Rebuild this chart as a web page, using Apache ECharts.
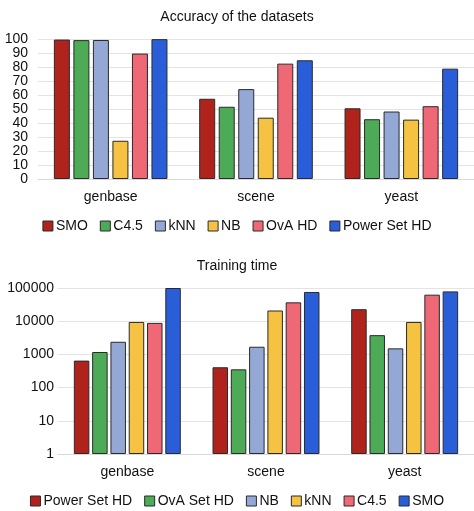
<!DOCTYPE html>
<html><head><meta charset="utf-8">
<script src="https://cdn.jsdelivr.net/npm/echarts@6/dist/echarts.min.js"></script>
<style>html,body{margin:0;padding:0;background:#fff}#c{width:474px;height:511px}</style>
</head><body><div id="c"></div>
<script>
const categories = ['genbase', 'scene', 'yeast'];
const colors = ['#B0231C', '#4DAA57', '#94A8D6', '#F5C242', '#EE6875', '#2A5ED8'];

const accNames = ['SMO', 'C4.5', 'kNN', 'NB', 'OvA HD', 'Power Set HD'];
const accSMO = [99.6, 57.3, 50.5];
const accC45 = [99.2, 51.6, 42.7];
const accKNN = [99.3, 64.2, 48.2];
const accNB = [27.3, 43.8, 42.4];
const accOvA = [89.6, 82.4, 52.0];
const accPS = [99.9, 84.8, 78.8];
const accSeries = [accSMO, accC45, accKNN, accNB, accOvA, accPS];
const accTicks = [0, 10, 20, 30, 40, 50, 60, 70, 80, 90, 100];

const timeNames = ['Power Set HD', 'OvA Set HD', 'NB', 'kNN', 'C4.5', 'SMO'];
const timePS = [650, 410, 23000];
const timeOvA = [1180, 355, 3800];
const timeNB = [2400, 1700, 1520];
const timeKNN = [9500, 21000, 9500];
const timeC45 = [8900, 37000, 63000];
const timeSMO = [100000, 76000, 79000];
const timeSeries = [timePS, timeOvA, timeNB, timeKNN, timeC45, timeSMO];
const timeTicks = [1, 10, 100, 1000, 10000, 100000];

const FONT = 'Liberation Sans';
const txt = { fontFamily: FONT, color: '#111', fontSize: 14 };

const series = [];
accSeries.forEach((d, i) => series.push({
  type: 'bar', name: accNames[i], xAxisIndex: 0, yAxisIndex: 0, data: d,
  barWidth: 16, barGap: '22%', barCategoryGap: '22%',
  itemStyle: { color: colors[i], borderColor: '#2a2a2a', borderWidth: 1 }
}));
timeSeries.forEach((d, i) => series.push({
  type: 'bar', name: timeNames[i], xAxisIndex: 1, yAxisIndex: 1, data: d,
  barWidth: 15.5, barGap: '18%', barCategoryGap: '22%',
  itemStyle: { color: colors[i], borderColor: '#2a2a2a', borderWidth: 1 }
}));

const legendCommon = {
  itemWidth: 10, itemHeight: 10, itemGap: 12, icon: 'rect',
  textStyle: { fontFamily: FONT, fontSize: 14, color: '#111', padding: [0, 0, 0, -2] }
};
const legendData = names => names.map((n, i) => ({
  name: n, itemStyle: { color: colors[i], borderColor: '#2a2a2a', borderWidth: 1 }
}));

const chart = echarts.init(document.getElementById('c'), null, { renderer: 'canvas' });
chart.setOption({
  animation: false,
  backgroundColor: '#fff',
  title: [
    { text: 'Accuracy of the datasets', left: 'center', top: 5, textStyle: { fontFamily: FONT, fontSize: 14, fontWeight: 'normal', color: '#111' } },
    { text: 'Training time', left: 'center', top: 254, textStyle: { fontFamily: FONT, fontSize: 14, fontWeight: 'normal', color: '#111' } }
  ],
  legend: [
    Object.assign({ data: legendData(accNames), top: 214, left: 'center' }, legendCommon),
    Object.assign({ data: legendData(timeNames), top: 489, left: 'center' }, legendCommon)
  ],
  grid: [
    { left: 38, right: 0, top: 39, height: 140 },
    { left: 58, right: -2, top: 288, height: 166 }
  ],
  xAxis: [0, 1].map(i => ({
    type: 'category', gridIndex: i, data: categories,
    axisLine: { show: true, lineStyle: { color: '#d9d9d9' } }, axisTick: { show: false },
    axisLabel: Object.assign({ margin: 11 }, txt)
  })),
  yAxis: [
    { type: 'value', gridIndex: 0, min: accTicks[0], max: accTicks[accTicks.length - 1], interval: 10,
      axisLine: { show: false }, axisTick: { show: false },
      splitLine: { lineStyle: { color: '#e3e3e3' } },
      axisLabel: Object.assign({ margin: 10 }, txt) },
    { type: 'log', gridIndex: 1, logBase: 10, min: timeTicks[0], max: timeTicks[timeTicks.length - 1], interval: 1,
      axisLine: { show: false }, axisTick: { show: false },
      splitLine: { lineStyle: { color: '#e3e3e3' } },
      axisLabel: Object.assign({ margin: 4, formatter: v => String(Math.round(v)) }, txt) }
  ],
  series: series
});
</script></body></html>
